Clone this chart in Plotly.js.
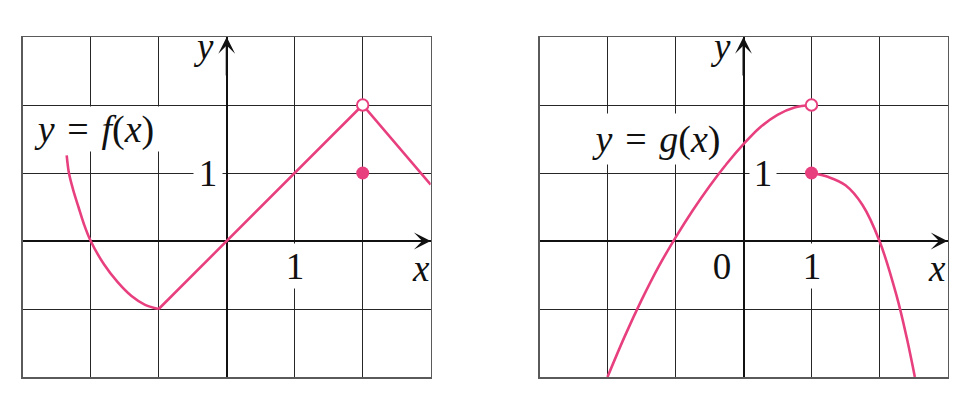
<!DOCTYPE html>
<html>
<head>
<meta charset="utf-8">
<script src="https://cdn.plot.ly/plotly-3.0.1.min.js"></script>
<style>html,body{margin:0;padding:0;background:#fff;}#chart{width:974px;height:404px;}</style>
</head>
<body>
<div id="chart"></div>
<script>
// ---- data ----
// f(x): curved left piece
const fCurveX = [-2.353, -2.32, -2.26, -2.18, -2.1, -2.0, -1.8, -1.6, -1.4, -1.2, -1.0];
const fCurveY = [1.26, 1.0, 0.76, 0.5, 0.25, 0.0, -0.35, -0.61, -0.81, -0.94, -1.0];
// f(x): straight pieces
const fLineX = [-1, 2, 3];
const fLineY = [-1, 2, 0.83];
const fOpenX = [2], fOpenY = [2];
const fDotX = [2], fDotY = [1];

// g(x): left branch
const gLeftX = [-2, -1.75, -1.5, -1.25, -1, -0.75, -0.5, -0.25, 0, 0.25, 0.5, 0.75, 1];
const gLeftY = [-2, -1.41, -0.87, -0.38, 0.05, 0.445, 0.806, 1.133, 1.425, 1.677, 1.856, 1.964, 2];
// g(x): right branch
const gRightX = [1, 1.25, 1.5, 1.75, 2.0, 2.25, 2.4, 2.52];
const gRightY = [1, 0.94, 0.82, 0.53, 0, -0.8, -1.42, -2.0];
const gOpenX = [1], gOpenY = [2];
const gDotX = [1], gDotY = [1];

const xRange = [-3, 3];
const yRange = [-2, 3];
const fLabel = '<i>y</i> \u200A=\u200A <i>f</i>(<i>x</i>)';
const gLabel = '<i>y</i> \u200A=\u200A <i>g</i>(<i>x</i>)';

// ---- styling ----
const PINK = '#e8407f';
const FONT = '"Liberation Serif", serif';
const FS = 37;

function curve(x, y, xa, ya, shape) {
  return {x: x, y: y, xaxis: xa, yaxis: ya, type: 'scatter', mode: 'lines',
    line: {color: PINK, width: 2.6, shape: shape, smoothing: 1}, hoverinfo: 'skip', showlegend: false};
}
function openPt(x, y, xa, ya) {
  return {x: x, y: y, xaxis: xa, yaxis: ya, type: 'scatter', mode: 'markers',
    marker: {size: 11.5, color: 'white', line: {color: PINK, width: 2}}, hoverinfo: 'skip', showlegend: false, cliponaxis: false};
}
function dotPt(x, y, xa, ya) {
  return {x: x, y: y, xaxis: xa, yaxis: ya, type: 'scatter', mode: 'markers',
    marker: {size: 13, color: PINK, line: {width: 0}}, hoverinfo: 'skip', showlegend: false, cliponaxis: false};
}

const traces = [
  curve(fCurveX, fCurveY, 'x', 'y', 'spline'),
  curve(fLineX, fLineY, 'x', 'y', 'linear'),
  dotPt(fDotX, fDotY, 'x', 'y'),
  openPt(fOpenX, fOpenY, 'x', 'y'),
  curve(gLeftX, gLeftY, 'x2', 'y2', 'spline'),
  curve(gRightX, gRightY, 'x2', 'y2', 'spline'),
  dotPt(gDotX, gDotY, 'x2', 'y2'),
  openPt(gOpenX, gOpenY, 'x2', 'y2')
];

function axis(range, domain, anchor) {
  return {range: range, domain: domain, anchor: anchor, dtick: 1, tick0: 0,
    showgrid: true, gridcolor: '#262626', gridwidth: 1,
    zeroline: true, zerolinecolor: '#111', zerolinewidth: 2,
    showline: true, mirror: true, linecolor: '#5a5a5a', linewidth: 1.5,
    showticklabels: false, ticks: '', fixedrange: true};
}

function label(text, x, y, xr, yr, w, h, bg, size) {
  const a = {text: text, x: x, y: y, xref: xr, yref: yr, showarrow: false,
    font: {family: FONT, size: size || FS, color: '#111'}, xanchor: 'center', yanchor: 'middle',
    borderpad: 0};
  if (w) a.width = w;
  if (h) a.height = h;
  if (bg) a.bgcolor = 'white';
  return a;
}
function arrow(x, y, xr, yr, ax, ay) {
  return {x: x, y: y, xref: xr, yref: yr, ax: ax, ay: ay, axref: 'pixel', ayref: 'pixel',
    showarrow: true, arrowhead: 3, arrowsize: 1.4, arrowwidth: 2, arrowcolor: '#111', text: ''};
}

const layout = {
  width: 974, height: 404, autosize: false,
  margin: {l: 0, r: 0, t: 0, b: 0},
  paper_bgcolor: 'white', plot_bgcolor: 'white',
  font: {family: FONT},
  xaxis: axis(xRange, [22.7 / 974, 430.7 / 974], 'y'),
  yaxis: axis(yRange, [1 - 377 / 404, 1 - 37 / 404], 'x'),
  xaxis2: axis(xRange, [539.5 / 974, 947.5 / 974], 'y2'),
  yaxis2: axis(yRange, [1 - 377 / 404, 1 - 37 / 404], 'x2'),
  annotations: [
    arrow(0, 3, 'x', 'y', 0, 40),
    arrow(3, 0, 'x', 'y', -40, 0),
    arrow(0, 3, 'x2', 'y2', 0, 40),
    arrow(3, 0, 'x2', 'y2', -40, 0),
    // left panel texts
    label(fLabel, -1.95, 1.64, 'x', 'y', 132, 44, true, 38),
    label('1', -0.282, 1.0, 'x', 'y', 28, 30, true),
    label('1', 1.0, -0.372, 'x', 'y', 20, 44, true),
    label('<i>x</i>', 2.86, -0.40, 'x', 'y'),
    label('<i>y</i>', -0.341, 2.86, 'x', 'y'),
    // right panel texts
    label(gLabel, -1.294, 1.496, 'x2', 'y2', 136, 50, true, 38),
    label('1', 0.294, 1.0, 'x2', 'y2', 26, 30, true),
    label('0', -0.309, -0.372, 'x2', 'y2', 22, 44, true),
    label('1', 1.0, -0.372, 'x2', 'y2', 20, 44, true),
    label('<i>x</i>', 2.846, -0.40, 'x2', 'y2'),
    label('<i>y</i>', -0.331, 2.86, 'x2', 'y2')
  ]
};

Plotly.newPlot('chart', traces, layout, {staticPlot: true, displayModeBar: false});
</script>
</body>
</html>
